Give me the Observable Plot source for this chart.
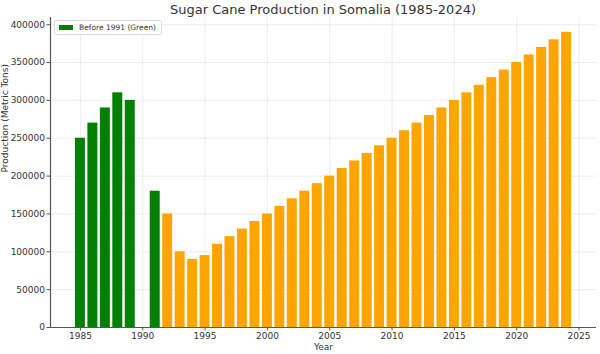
<!DOCTYPE html>
<html><head><meta charset="utf-8">
<script src="https://cdn.jsdelivr.net/npm/d3@7"></script>
<script src="https://cdn.jsdelivr.net/npm/@observablehq/plot@0.6"></script>
<style>
body{margin:0;background:#fff;font-family:"DejaVu Sans",sans-serif;}
#wrap{position:relative;width:600px;height:354px;}
#title{position:absolute;left:50px;width:546px;top:2px;text-align:center;font-size:13px;color:#333;}
#legend{position:absolute;left:54px;top:20px;border:1px solid #ddd;border-radius:2px;background:rgba(255,255,255,0.9);font-size:7.5px;color:#333;padding:2px 5px 2px 4px;display:flex;align-items:center;}
#legend span.sw{display:inline-block;width:14px;height:5px;background:#008000;margin-right:6px;}
</style></head>
<body><div id="wrap"><div id="title">Sugar Cane Production in Somalia (1985-2024)</div><div id="legend"><span class="sw"></span>Before 1991 (Green)</div></div>
<script>
const years = [1985,1986,1987,1988,1989,1991,1992,1993,1994,1995,1996,1997,1998,1999,2000,2001,2002,2003,2004,2005,2006,2007,2008,2009,2010,2011,2012,2013,2014,2015,2016,2017,2018,2019,2020,2021,2022,2023,2024];
const production = [250000,270000,290000,310000,300000,180000,150000,100000,90000,95000,110000,120000,130000,140000,150000,160000,170000,180000,190000,200000,210000,220000,230000,240000,250000,260000,270000,280000,290000,300000,310000,320000,330000,340000,350000,360000,370000,380000,390000];
const xTicks = [1985,1990,1995,2000,2005,2010,2015,2020,2025];
const yTicks = [0,50000,100000,150000,200000,250000,300000,350000,400000];
const data = years.map((y,i)=>({year:y, value:production[i], group: y<=1991 ? "green" : "orange"}));
const colorOf = g => g==="green" ? "#008000" : "#FFA500";

const plot = Plot.plot({
  width:600, height:354,
  marginLeft:50, marginRight:4, marginTop:17, marginBottom:27,
  style:{fontFamily:"DejaVu Sans, sans-serif", fontSize:"9px", color:"#333", background:"transparent"},
  x:{domain:[1982.6,2026.4], ticks:xTicks, tickFormat:d=>String(d), label:null, tickSize:3.5},
  y:{domain:[0,409500], ticks:yTicks, tickFormat:d=>String(d), label:null, tickSize:3.5},
  marks:[
    Plot.gridX(xTicks,{stroke:"#ccc", strokeOpacity:0.6, strokeWidth:0.6}),
    Plot.gridY(yTicks,{stroke:"#ccc", strokeOpacity:0.6, strokeWidth:0.6}),
    Plot.rectY(data,{x1:d=>d.year-0.4, x2:d=>d.year+0.4, y1:0, y2:"value", fill:d=>colorOf(d.group), inset:0}),
    Plot.axisX({ticks:xTicks, tickFormat:d=>String(d), tickSize:3.5, tickPadding:2, stroke:"#555", label:null}),
    Plot.axisY({ticks:yTicks, tickFormat:d=>String(d), tickSize:3.5, tickPadding:2, stroke:"#555", label:null}),
    Plot.ruleY([0],{stroke:"#555", strokeWidth:1.2}),
    Plot.ruleX([1982.6],{stroke:"#555", strokeWidth:1.2}),
    Plot.text(["Year"],{frameAnchor:"bottom", dy:22, fontSize:9, fill:"#333"}),
    Plot.text(["Production (Metric Tons)"],{frameAnchor:"left", dx:-45, rotate:-90, fontSize:9, fill:"#333"})
  ]
});
plot.style.position="absolute"; plot.style.left="0"; plot.style.top="0";
const wrap=document.getElementById("wrap");
wrap.insertBefore(plot, wrap.firstChild);
</script></body></html>
